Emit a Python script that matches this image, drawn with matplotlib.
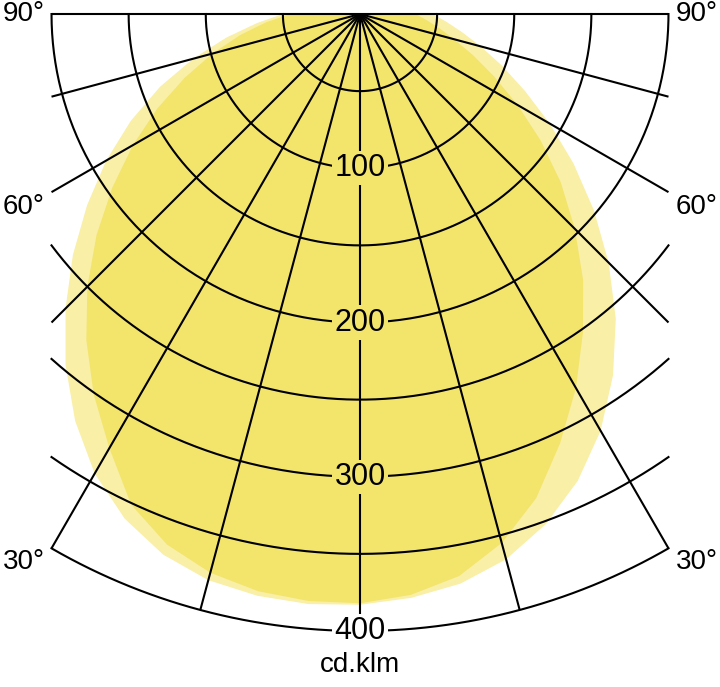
import matplotlib.pyplot as plt
import numpy as np

plt.rcParams['font.family'] = ['Liberation Sans', 'DejaVu Sans']

# intensity in cd/klm, angle from nadir (0) to horizontal (90), every 5 deg
angles = [0, 5, 10, 15, 20, 25, 30, 35, 40, 45, 50, 55, 60, 65, 70, 75, 80, 85, 90]
pale_left = [383, 384, 383, 380, 373, 361, 344, 322, 297, 270, 243, 216, 190, 164, 138, 112, 88, 67, 50]
pale_right = [382, 380, 375, 366, 352, 334, 312, 286, 258, 228, 198, 169, 142, 118, 98, 81, 67, 56, 47]
dark_left = [382, 382, 380, 375, 366, 351, 325, 301, 276, 250, 223, 196, 170, 145, 121, 99, 79, 61, 45]
dark_right = [381, 378, 370, 355, 334, 307, 280, 252, 225, 197, 170, 143, 118, 96, 78, 63, 52, 43, 36]

ring_values = [50, 100, 150, 200, 250, 300, 350, 400]
ring_labels = [100, 200, 300, 400]
spoke_angles = np.arange(-90, 91, 15)
side_labels = ['90°', '60°', '30°']

half_width = 200
r_max = 400

pale_color = '#f9efa6'
dark_color = '#f3e46c'


def curve_xy(left, right):
    th = np.deg2rad(np.concatenate([-np.array(angles[::-1]), np.array(angles[1:])]))
    r = np.concatenate([np.array(left[::-1]), np.array(right[1:])])
    x = r * np.sin(th)
    y = -r * np.cos(th)
    return np.concatenate([[0], x, [0]]), np.concatenate([[0], y, [0]])


fig = plt.figure(figsize=(7.2, 6.87), dpi=100)
ax = fig.add_axes([0, 0, 1, 1])
ax.set_xlim(-233.4, 233.4)
ax.set_ylim(-436.3, 9.08)
ax.set_aspect('equal')
ax.axis('off')

x, y = curve_xy(pale_left, pale_right)
ax.fill(x, y, color=pale_color, lw=0, zorder=1)
x, y = curve_xy(dark_left, dark_right)
ax.fill(x, y, color=dark_color, lw=0, zorder=2)

lw = 1.5
for rv in ring_values:
    lim = 90 if rv <= half_width else np.rad2deg(np.arcsin(half_width / rv))
    th = np.deg2rad(np.linspace(-lim, lim, 300))
    ax.plot(rv * np.sin(th), -rv * np.cos(th), color='black', lw=lw, zorder=3)

for a in spoke_angles:
    t = np.deg2rad(a)
    length = r_max if abs(np.sin(t)) < 0.5 else half_width / abs(np.sin(t))
    ax.plot([0, length * np.sin(t)], [0, -length * np.cos(t)],
            color='black', lw=lw, zorder=3, solid_capstyle='butt')

for v in ring_labels:
    bg = 'white' if v == 400 else dark_color
    ax.text(0, -v, str(v), ha='center', va='center', fontsize=22, zorder=5,
            bbox=dict(facecolor=bg, edgecolor='none', pad=1.5))

label_y = [0, -125, -355]
for lab, ly in zip(side_labels, label_y):
    ax.text(-204.5, ly, lab, ha='right', va='center', fontsize=20)
    ax.text(204.5, ly, lab, ha='left', va='center', fontsize=20)

ax.text(0, -422, 'cd.klm', ha='center', va='center', fontsize=20)

fig.savefig('out.png', dpi=100)
